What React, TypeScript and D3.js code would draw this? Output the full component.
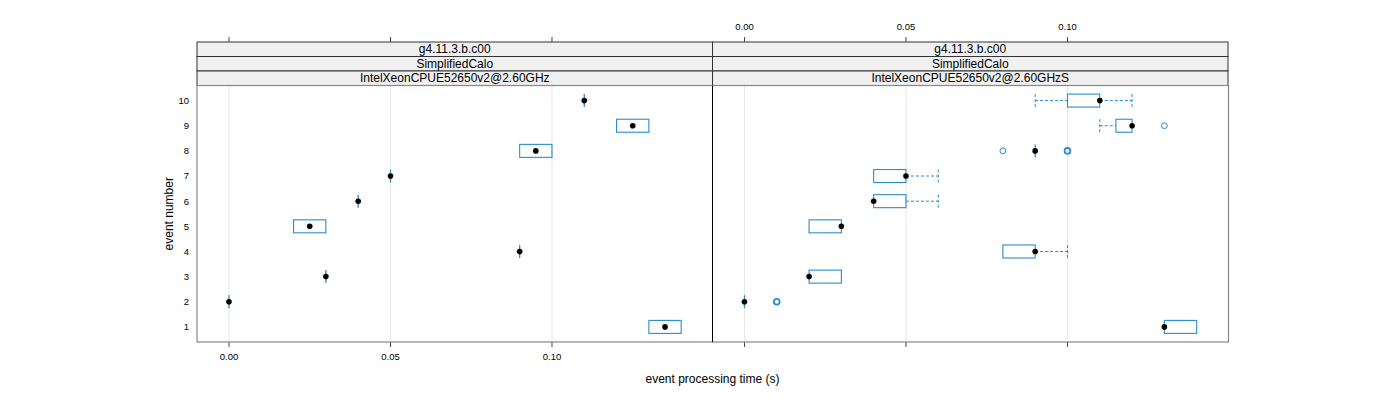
import React from "react";
import * as d3 from "d3";

const events = [1, 2, 3, 4, 5, 6, 7, 8, 9, 10];
const xTicks = [0.0, 0.05, 0.1];
const stripLabels1 = ["g4.11.3.b.c00", "SimplifiedCalo"];
const panelNames = ["IntelXeonCPUE52650v2@2.60GHz", "IntelXeonCPUE52650v2@2.60GHzS"];

// Left panel stats per event (1..10)
const leftLo = [0.13, 0.0, 0.03, 0.09, 0.02, 0.04, 0.05, 0.09, 0.12, 0.11];
const leftQ1 = [0.13, 0.0, 0.03, 0.09, 0.02, 0.04, 0.05, 0.09, 0.12, 0.11];
const leftMed = [0.135, 0.0, 0.03, 0.09, 0.025, 0.04, 0.05, 0.095, 0.125, 0.11];
const leftQ3 = [0.14, 0.0, 0.03, 0.09, 0.03, 0.04, 0.05, 0.1, 0.13, 0.11];
const leftHi = [0.14, 0.0, 0.03, 0.09, 0.03, 0.04, 0.05, 0.1, 0.13, 0.11];
const leftOut: number[][] = [[], [], [], [], [], [], [], [], [], []];

// Right panel stats per event (1..10)
const rightLo = [0.13, 0.0, 0.02, 0.08, 0.02, 0.04, 0.04, 0.09, 0.11, 0.09];
const rightQ1 = [0.13, 0.0, 0.02, 0.08, 0.02, 0.04, 0.04, 0.09, 0.115, 0.1];
const rightMed = [0.13, 0.0, 0.02, 0.09, 0.03, 0.04, 0.05, 0.09, 0.12, 0.11];
const rightQ3 = [0.14, 0.0, 0.03, 0.09, 0.03, 0.05, 0.05, 0.09, 0.12, 0.11];
const rightHi = [0.14, 0.0, 0.03, 0.1, 0.03, 0.06, 0.06, 0.09, 0.12, 0.12];
const rightOut: number[][] = [[], [0.01, 0.01], [], [], [], [], [], [0.08, 0.1, 0.1], [0.13], []];

const BLUE = "#2a8ccb";
const FONT = "Liberation Sans, Arial, sans-serif";

const panels = [
  { name: panelNames[0], lo: leftLo, q1: leftQ1, med: leftMed, q3: leftQ3, hi: leftHi, out: leftOut },
  { name: panelNames[1], lo: rightLo, q1: rightQ1, med: rightMed, q3: rightQ3, hi: rightHi, out: rightOut },
];

export default function App() {
  const W = 1400, H = 400;
  const panelTop = 85.5, panelBot = 342;
  const stripTop = 42;
  const stripH = (panelTop - stripTop) / 3;
  const pX = [197, 712.5];
  const pW = 515.5;
  const y = d3.scaleLinear().domain([0.4, 10.6]).range([panelBot, panelTop]);
  const boxH = 6.5;

  return (
    <svg width={W} height={H} style={{ display: "block", position: "absolute", left: 0, top: 0 }} fontFamily={FONT}>
      {panels.map((p, pi) => {
        const x0 = pX[pi];
        const x = d3.scaleLinear().domain([-0.0099, 0.1497]).range([x0, x0 + pW]);
        return (
          <g key={pi}>
            {/* grid */}
            {xTicks.map((t) => (
              <line key={t} x1={x(t)} x2={x(t)} y1={panelTop} y2={panelBot} stroke="#e6e6e6" strokeWidth={1} />
            ))}
            {/* strips */}
            {[...stripLabels1, p.name].map((s, si) => (
              <g key={si}>
                <rect x={x0} y={stripTop + si * stripH} width={pW} height={stripH} fill="#f0f0f0" stroke="#333" strokeWidth={1} />
                <text x={x0 + pW / 2} y={stripTop + si * stripH + stripH / 2 + 4.2} textAnchor="middle" fontSize={12}>
                  {s}
                </text>
              </g>
            ))}
            {/* boxes */}
            {events.map((e, i) => {
              const cy = y(e);
              const dash = "3,2";
              const zero = p.q3[i] - p.q1[i] < 1e-9;
              const counts = d3.rollup(p.out[i], (v) => v.length, (d) => d);
              return (
                <g key={e}>
                  {p.lo[i] < p.q1[i] && (
                    <g>
                      <line x1={x(p.lo[i])} x2={x(p.q1[i])} y1={cy} y2={cy} stroke={BLUE} strokeDasharray={dash} />
                      <line x1={x(p.lo[i])} x2={x(p.lo[i])} y1={cy - boxH} y2={cy + boxH} stroke={BLUE} strokeDasharray={dash} />
                    </g>
                  )}
                  {p.hi[i] > p.q3[i] && (
                    <g>
                      <line x1={x(p.q3[i])} x2={x(p.hi[i])} y1={cy} y2={cy} stroke={BLUE} strokeDasharray={dash} />
                      <line x1={x(p.hi[i])} x2={x(p.hi[i])} y1={cy - boxH} y2={cy + boxH} stroke={BLUE} strokeDasharray={dash} />
                    </g>
                  )}
                  {zero ? (
                    <line x1={x(p.q1[i])} x2={x(p.q1[i])} y1={cy - boxH} y2={cy + boxH} stroke={BLUE} strokeWidth={1.3} />
                  ) : (
                    <rect
                      x={x(p.q1[i])}
                      y={cy - boxH}
                      width={x(p.q3[i]) - x(p.q1[i])}
                      height={boxH * 2}
                      fill="none"
                      stroke={BLUE}
                      strokeWidth={1.1}
                    />
                  )}
                  {Array.from(counts).map(([o, c]) => (
                    <circle key={o} cx={x(o)} cy={cy} r={2.9} fill="none" stroke={BLUE} strokeWidth={c > 1 ? 1.8 : 1} />
                  ))}
                  <circle cx={x(p.med[i])} cy={cy} r={2.8} fill="#000" />
                </g>
              );
            })}
            {/* top axis ticks */}
            {xTicks.map((t) => (
              <line key={"tt" + t} x1={x(t)} x2={x(t)} y1={stripTop - 5} y2={stripTop} stroke="#444" />
            ))}
            {/* bottom axis ticks */}
            {xTicks.map((t) => (
              <line key={"bt" + t} x1={x(t)} x2={x(t)} y1={panelBot} y2={panelBot + 5} stroke="#444" />
            ))}
            {pi === 0 &&
              xTicks.map((t) => (
                <text key={"bl" + t} x={x(t)} y={panelBot + 18} textAnchor="middle" fontSize={9.5}>
                  {d3.format(".2f")(t)}
                </text>
              ))}
            {pi === 1 &&
              xTicks.map((t) => (
                <text key={"tl" + t} x={x(t)} y={stripTop - 12} textAnchor="middle" fontSize={9.5}>
                  {d3.format(".2f")(t)}
                </text>
              ))}
          </g>
        );
      })}
      {/* outer frame */}
      <rect x={pX[0]} y={panelTop} width={pW * 2 + 0.5} height={panelBot - panelTop} fill="none" stroke="#888" strokeWidth={1.2} />
      <line x1={pX[1]} x2={pX[1]} y1={panelTop} y2={panelBot} stroke="#000" strokeWidth={1} />
      {/* y labels */}
      {events.map((e) => (
        <g key={e}>
          <text x={pX[0] - 8} y={y(e) + 3.4} textAnchor="end" fontSize={9.5}>
            {e}
          </text>
        </g>
      ))}
      <text transform={`translate(173,${(panelTop + panelBot) / 2}) rotate(-90)`} textAnchor="middle" fontSize={12}>
        event number
      </text>
      <text x={712.5} y={383} textAnchor="middle" fontSize={12}>
        event processing time (s)
      </text>
    </svg>
  );
}
